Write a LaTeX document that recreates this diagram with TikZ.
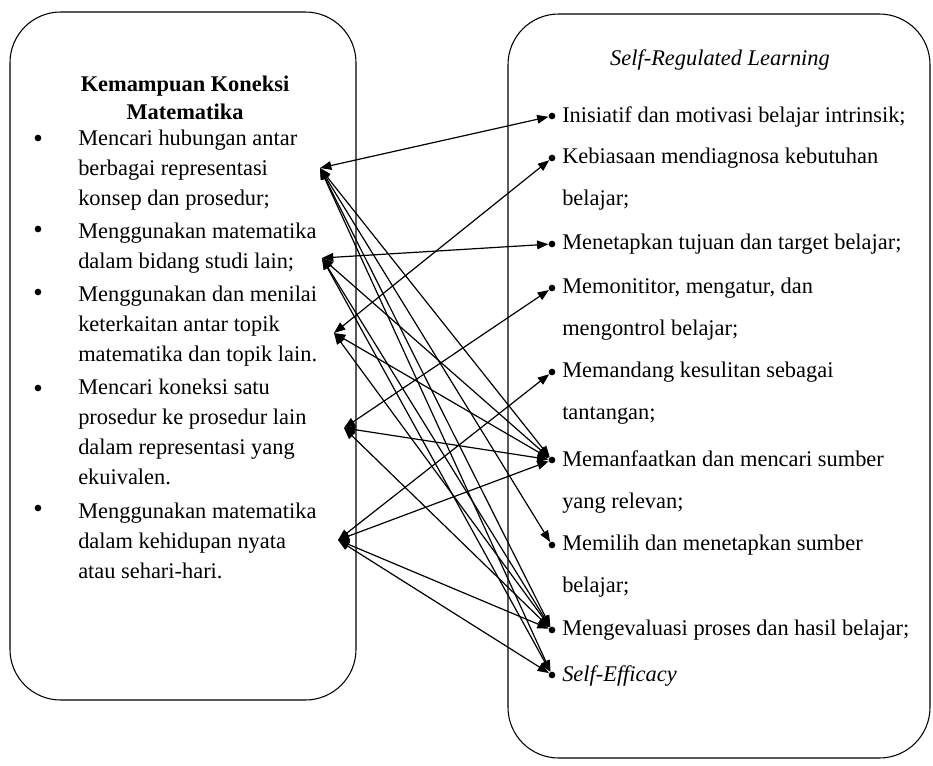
\documentclass[tikz,border=0pt]{standalone}
\usepackage{fontspec}
\setmainfont{Liberation Serif}
\usetikzlibrary{arrows.meta,positioning}
\tikzset{
  % rounded frame of a column
  frame/.style={draw=black, line width=0.8pt, rounded corners=38pt},
  % bullet dot
  bdot/.style={circle, fill=black, inner sep=0pt, minimum size=5pt},
  % item texts
  litem/.style={anchor=north west, inner sep=0pt, align=left,
    font=\fontsize{16.8}{22.5}\selectfont},
  ritem/.style={anchor=north west, inner sep=0pt, align=left,
    font=\fontsize{16.8}{31.5}\selectfont},
  % column titles
  ttl/.style={align=center, inner sep=0pt},
  % two-headed link
  link/.style={draw=black, line width=0.9pt,
    {Triangle[length=8.5pt,width=6.5pt]}-{Triangle[length=8.5pt,width=6.5pt]}}
}

\begin{document}
\begin{tikzpicture}[x=0.75pt, y=-0.75pt]
  \useasboundingbox (0,0) rectangle (933,765);

  % Frames
  \draw[frame] (10,12) rectangle (356,700);
  \draw[frame] (508,14) rectangle (930,758);

  % Titles
  \node[ttl, font=\fontsize{16.8}{21}\selectfont\bfseries] (ktitle) at (185,98)
    {Kemampuan Koneksi\\Matematika};
  \node[ttl, font=\fontsize{16.8}{21}\selectfont\itshape] (stitle) at (720,60)
    {Self-Regulated Learning};

  % Left column
  \node[bdot] (b1) at (38,138) {};
  \node[bdot] (b2) at (38,229) {};
  \node[bdot] (b3) at (38,292) {};
  \node[bdot] (b4) at (38,388) {};
  \node[bdot] (b5) at (38,508) {};
  \node[litem] (k1) at (78,130) {Mencari hubungan antar\\berbagai representasi\\konsep dan prosedur;};
  \node[litem] (k2) at (78,223) {Menggunakan matematika\\dalam bidang studi lain;};
  \node[litem] (k3) at (78,286) {Menggunakan dan menilai\\keterkaitan antar topik\\matematika dan topik lain.};
  \node[litem] (k4) at (78,379) {Mencari koneksi satu\\prosedur ke prosedur lain\\dalam representasi yang\\ekuivalen.};
  \node[litem] (k5) at (78,503) {Menggunakan matematika\\dalam kehidupan nyata\\atau sehari-hari.};

  % Link ends on the left
  \coordinate (l1) at (320,168);
  \coordinate (l2) at (322,258);
  \coordinate (l3) at (334,333);
  \coordinate (l4) at (344,428);
  \coordinate (l5) at (338,540);

  % Right column
  \node[bdot] (r1) at (552,116) {};
  \node[bdot] (r2) at (552,158) {};
  \node[bdot] (r3) at (552,244) {};
  \node[bdot] (r4) at (552,288) {};
  \node[bdot] (r5) at (552,372) {};
  \node[bdot] (r6) at (552,460) {};
  \node[bdot] (r7) at (552,545) {};
  \node[bdot] (r8) at (552,630) {};
  \node[bdot] (r9) at (552,675) {};
  \node[ritem] (s1) at (562,106) {Inisiatif dan motivasi belajar intrinsik;};
  \node[ritem] (s2) at (562,148) {Kebiasaan mendiagnosa kebutuhan\\belajar;};
  \node[ritem] (s3) at (562,234) {Menetapkan tujuan dan target belajar;};
  \node[ritem] (s4) at (562,278) {Memonititor, mengatur, dan\\mengontrol belajar;};
  \node[ritem] (s5) at (562,362) {Memandang kesulitan sebagai\\tantangan;};
  \node[ritem] (s6) at (562,450) {Memanfaatkan dan mencari sumber\\yang relevan;};
  \node[ritem] (s7) at (562,535) {Memilih dan menetapkan sumber\\belajar;};
  \node[ritem] (s8) at (562,620) {Mengevaluasi proses dan hasil belajar;};
  \node[ritem, font=\fontsize{16.8}{31.5}\selectfont\itshape] (s9) at (562,665) {Self-Efficacy};

  % Links
  \draw[link] (l1) -- (r1);
  \draw[link] (l1) -- (r6);
  \draw[link] (l1) -- (r7);
  \draw[link] (l1) -- (r8);
  \draw[link] (l1) -- (r9);
  \draw[link] (l2) -- (r3);
  \draw[link] (l2) -- (r6);
  \draw[link] (l2) -- (r8);
  \draw[link] (l2) -- (r9);
  \draw[link] (l3) -- (r2);
  \draw[link] (l3) -- (r6);
  \draw[link] (l3) -- (r8);
  \draw[link] (l4) -- (r4);
  \draw[link] (l4) -- (r6);
  \draw[link] (l4) -- (r8);
  \draw[link] (l5) -- (r5);
  \draw[link] (l5) -- (r6);
  \draw[link] (l5) -- (r8);
  \draw[link] (l5) -- (r9);
\end{tikzpicture}
\end{document}
